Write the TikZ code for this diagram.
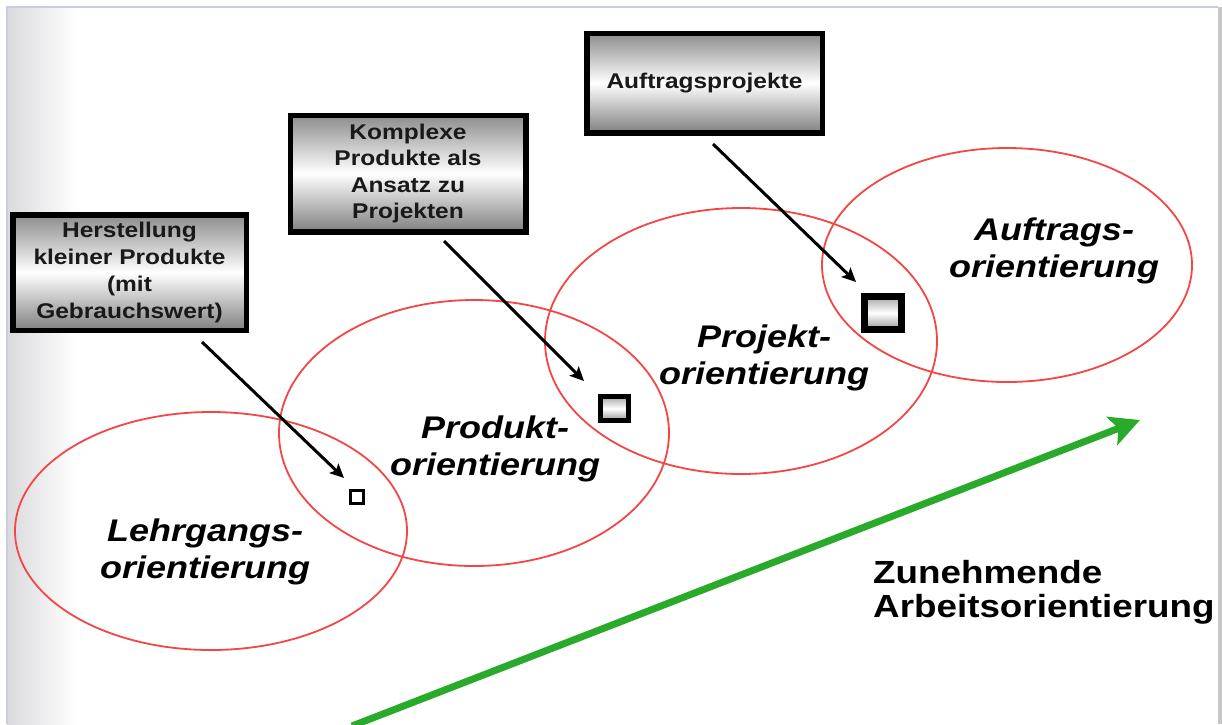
\documentclass[tikz,border=0pt]{standalone}
\usepackage{fontspec}
\setmainfont{Liberation Sans}[FakeStretch=1.15]
\usetikzlibrary{arrows.meta,shapes.geometric}
\definecolor{ovalred}{RGB}{245,70,70}
\definecolor{arrgreen}{RGB}{42,170,42}
\definecolor{framecol}{RGB}{200,206,222}
\definecolor{sidegray}{RGB}{218,218,222}
\begin{document}
\begin{tikzpicture}[x=1pt,y=-1pt,
  oval/.style={ellipse,draw=ovalred,line width=1.8pt,inner sep=0pt,outer sep=0pt},
  labelbox/.style={rectangle,draw=black,line width=5.5pt,top color=black!45,bottom color=black!50,middle color=white,
    align=center,inner sep=0pt,outer sep=0pt,text=black!90,font=\bfseries\fontsize{21.3}{27}\selectfont},
  marker/.style={rectangle,draw=black,inner sep=0pt,outer sep=0pt,top color=black!35,bottom color=black!40,middle color=white},
  ovaltext/.style={align=center,inner sep=0pt,font=\bfseries\itshape\fontsize{31.3}{37}\selectfont},
  pointer/.style={draw=black,line width=3pt,-{Stealth[length=14pt,width=13pt,inset=3pt]}},
  trend/.style={draw=arrgreen,line width=7pt,-{Stealth[length=30pt,width=30pt,inset=7pt]}}]
\useasboundingbox (0,0) rectangle (1222,724);
% background / frame
\fill[white] (0,0) rectangle (1222,724);
\shade[left color=sidegray,right color=white] (7,7) rectangle (76,724);
\draw[framecol,line width=1.5pt] (7,724) -- (7,7) -- (1218,7);
\fill[black!22] (1218,7) rectangle (1222,724);
% ellipses
\node[oval,minimum width=392pt,minimum height=238pt] (e1) at (211,531) {};
\node[oval,minimum width=390pt,minimum height=266pt] (e2) at (474,433) {};
\node[oval,minimum width=392pt,minimum height=266pt] (e3) at (741,341) {};
\node[oval,minimum width=370pt,minimum height=234pt] (e4) at (1007,265) {};
% ellipse texts
\node[ovaltext] (t1) at (205,552) {Lehrgangs-\\orientierung};
\node[ovaltext] (t2) at (495,449) {Produkt-\\orientierung};
\node[ovaltext] (t3) at (764,358) {Projekt-\\orientierung};
\node[ovaltext] (t4) at (1054,251) {Auftrags-\\orientierung};
% label boxes
\node[labelbox,minimum width=233.5pt,minimum height=115.5pt] (b1) at (129.5,272.5) {Herstellung\\kleiner Produkte\\(mit\\Gebrauchswert)};
\node[labelbox,minimum width=235.5pt,minimum height=116.5pt,font=\bfseries\fontsize{21.3}{26.3}\selectfont] (b2) at (408,173.5) {Komplexe\\Produkte als\\Ansatz zu\\Projekten};
\node[labelbox,minimum width=235.5pt,minimum height=99.5pt] (b3) at (704.5,83) {Auftragsprojekte};
% markers
\node[marker,line width=3pt,minimum width=13pt,minimum height=13pt,top color=white,bottom color=white,middle color=white] (s1) at (357,497) {};
\node[marker,line width=5pt,minimum width=28pt,minimum height=24pt] (s2) at (614.5,408.5) {};
\node[marker,line width=7pt,minimum width=37pt,minimum height=33pt] (s3) at (883,313) {};
% pointer arrows
\coordinate (p1s) at (202,342); \coordinate (p1e) at (344,478);
\coordinate (p2s) at (444,241); \coordinate (p2e) at (584,381);
\coordinate (p3s) at (713,144); \coordinate (p3e) at (856,282);
\draw[pointer] (p1s) -- (p1e);
\draw[pointer] (p2s) -- (p2e);
\draw[pointer] (p3s) -- (p3e);
% trend arrow
\coordinate (g0) at (352,726);
\coordinate (g1) at (1140,420);
\draw[trend] (g0) -- (g1);
\node[anchor=west,align=left,inner sep=0pt,font=\bfseries\fontsize{32}{34}\selectfont] (zt) at (873,592) {Zunehmende\\Arbeitsorientierung};
\end{tikzpicture}
\end{document}
